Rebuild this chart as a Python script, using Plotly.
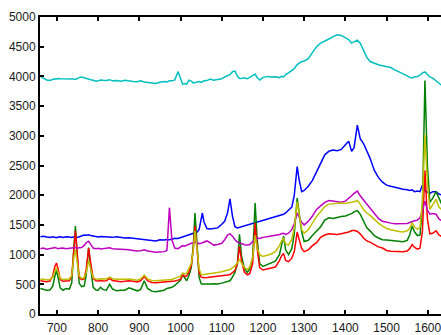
import plotly.graph_objects as go

# Raman shift (cm^-1), shared by all spectra
shift = [660, 667, 675, 683, 690, 695, 699, 703, 708, 715, 722, 730, 736, 741, 745, 749, 754, 760,
         766, 771, 777, 782, 788, 795, 800, 806, 812, 820, 828, 835, 845, 855, 865, 875, 885, 895,
         903, 912, 920, 930, 940, 950, 960, 967, 973, 979, 986, 994, 1000, 1005, 1010, 1015, 1020,
         1026, 1031, 1035, 1040, 1045, 1050, 1053, 1057, 1064, 1072, 1080, 1090, 1100, 1107, 1114,
         1120, 1126, 1132, 1138, 1143, 1148, 1155, 1162, 1168, 1175, 1181, 1186, 1192, 1200, 1210,
         1220, 1230, 1240, 1245, 1250, 1255, 1262, 1270, 1276, 1283, 1288, 1294, 1300, 1310, 1320,
         1330, 1340, 1350, 1360, 1370, 1380, 1390, 1400, 1408, 1415, 1421, 1429, 1436, 1444, 1452,
         1460, 1470, 1480, 1490, 1500, 1510, 1520, 1530, 1540, 1550, 1556, 1562, 1568, 1575, 1581,
         1587, 1593, 1599, 1605, 1612, 1620, 1627, 1635]

blue = [1300, 1310, 1295, 1290, 1300, 1290, 1285, 1295, 1300, 1290, 1300, 1295, 1290, 1300, 1295,
        1290, 1300, 1320, 1330, 1325, 1335, 1320, 1310, 1300, 1295, 1305, 1300, 1290, 1295, 1290,
        1300, 1285, 1280, 1285, 1275, 1270, 1260, 1255, 1250, 1240, 1230, 1250, 1245, 1255, 1250,
        1260, 1275, 1270, 1285, 1290, 1300, 1310, 1330, 1350, 1360, 1365, 1380, 1420, 1600, 1700,
        1550, 1440, 1430, 1435, 1450, 1510, 1560, 1700, 1940, 1650, 1470, 1450, 1460, 1470, 1480,
        1500, 1510, 1530, 1540, 1545, 1560, 1575, 1590, 1610, 1630, 1650, 1660, 1680, 1700, 1740,
        1800, 2000, 2480, 2250, 2060, 2080, 2150, 2250, 2400, 2530, 2680, 2740, 2760, 2750, 2770,
        2850, 2910, 2740, 2800, 3180, 2950, 2870, 2740, 2620, 2420, 2300, 2220, 2170, 2150, 2130,
        2120, 2100, 2090, 2080, 2090, 2060, 2070, 2060, 2170, 2080, 2050, 2030, 2060, 2060, 2020,
        2000]

green = [430, 410, 400, 405, 470, 640, 730, 610, 440, 400, 430, 420, 520, 1100, 1480, 1000, 520,
         460, 470, 650, 1120, 780, 450, 405, 400, 450, 410, 400, 500, 420, 390, 400, 400, 440, 420,
         390, 410, 560, 430, 385, 375, 390, 400, 430, 440, 450, 480, 530, 570, 660, 600, 560, 640,
         780, 1150, 1700, 1200, 620, 510, 500, 505, 500, 505, 510, 505, 520, 530, 545, 560, 620,
         700, 850, 1340, 980, 760, 700, 760, 950, 1870, 1250, 850, 800, 830, 860, 890, 1000, 1150,
         1310, 1080, 1000, 1100, 1350, 1950, 1700, 1380, 1220, 1240, 1320, 1400, 1470, 1580, 1620,
         1610, 1630, 1640, 1650, 1670, 1690, 1720, 1740, 1680, 1560, 1450, 1400, 1320, 1280, 1250,
         1245, 1240, 1230, 1220, 1215, 1240, 1330, 1480, 1380, 1320, 1330, 1800, 3930, 2500, 1880,
         1950, 2060, 1950, 1830]

red = [560, 550, 545, 555, 640, 800, 858, 760, 580, 550, 560, 560, 640, 1100, 1400, 1050, 620, 580,
       590, 750, 1110, 860, 600, 560, 555, 565, 555, 560, 600, 565, 550, 545, 550, 560, 550, 540,
       560, 630, 560, 530, 525, 530, 535, 540, 545, 545, 555, 570, 585, 660, 630, 640, 700, 820,
       1100, 1480, 1100, 700, 620, 615, 612, 615, 620, 630, 635, 640, 650, 655, 665, 690, 730, 850,
       1140, 900, 700, 660, 680, 850, 1530, 1100, 780, 740, 760, 780, 790, 900, 980, 1020, 900, 880,
       940, 1050, 1380, 1250, 1100, 1050, 1080, 1150, 1200, 1290, 1330, 1350, 1345, 1340, 1350,
       1360, 1380, 1400, 1410, 1390, 1350, 1280, 1230, 1210, 1170, 1130, 1110, 1070, 1055, 1050,
       1050, 1050, 1060, 1100, 1170, 1120, 1090, 1110, 1400, 2420, 1600, 1350, 1360, 1400, 1330,
       1300]

cyan = [4000, 3970, 3940, 3930, 3955, 3960, 3955, 3965, 3960, 3960, 3965, 3955, 3960, 3955, 3950,
        3965, 3980, 3990, 3975, 3975, 3950, 3945, 3935, 3920, 3925, 3940, 3935, 3930, 3945, 3925,
        3930, 3920, 3935, 3920, 3915, 3910, 3925, 3905, 3900, 3890, 3880, 3900, 3915, 3905, 3925,
        3925, 3940, 4080, 3950, 3870, 3880, 3870, 3935, 3920, 3890, 3895, 3900, 3915, 3900, 3910,
        3925, 3930, 3955, 3935, 3950, 3960, 3990, 4010, 4030, 4080, 4090, 4000, 3970, 3965, 3975,
        3960, 3990, 4020, 4040, 3980, 3940, 3980, 4000, 3990, 3995, 3980, 4000, 3990, 4030, 4060,
        4100, 4130, 4200, 4230, 4250, 4260, 4300, 4400, 4500, 4560, 4590, 4630, 4670, 4700, 4690,
        4650, 4620, 4560, 4580, 4610, 4560, 4450, 4320, 4250, 4220, 4195, 4180, 4160, 4150, 4110,
        4080, 4050, 4010, 3985, 3975, 3995, 4000, 4020, 4060, 4075, 4040, 3990, 3970, 3930, 3880,
        3840]

magenta = [1100, 1110, 1090, 1095, 1110, 1120, 1110, 1100, 1105, 1110, 1100, 1105, 1115, 1110,
           1120, 1110, 1110, 1120, 1150, 1200, 1225, 1180, 1110, 1100, 1105, 1095, 1100, 1105, 1115,
           1100, 1095, 1100, 1090, 1080, 1070, 1060, 1065, 1080, 1060, 1045, 1040, 1045, 1050, 1070,
           1790, 1250, 1110, 1100, 1130, 1150, 1140, 1160, 1180, 1190, 1200, 1210, 1200, 1185, 1190,
           1200, 1210, 1230, 1200, 1160, 1170, 1190, 1250, 1330, 1350, 1310, 1250, 1210, 1200, 1180,
           1165, 1160, 1170, 1220, 1260, 1280, 1270, 1290, 1300, 1310, 1320, 1340, 1350, 1360, 1340,
           1360, 1420, 1520, 1700, 1620, 1540, 1500, 1560, 1650, 1760, 1820, 1880, 1910, 1900, 1890,
           1880, 1900, 1940, 1990, 2030, 2070, 1990, 1920, 1840, 1780, 1690, 1610, 1560, 1540, 1530,
           1520, 1520, 1515, 1525, 1540, 1560, 1570, 1580, 1620, 1740, 1900, 1750, 1680, 1690, 1680,
           1600, 1560]

yellow = [590, 580, 575, 580, 620, 720, 780, 700, 600, 580, 590, 590, 650, 950, 1080, 900, 640, 600,
          610, 700, 900, 760, 610, 590, 585, 595, 590, 590, 620, 595, 585, 580, 585, 590, 580, 570,
          590, 655, 590, 565, 560, 565, 570, 575, 575, 580, 600, 620, 638, 690, 670, 690, 760, 850,
          1080, 1400, 1100, 760, 670, 660, 665, 670, 680, 690, 700, 710, 725, 740, 750, 780, 810, 860,
          920, 860, 780, 750, 790, 950, 1320, 1100, 1000, 970, 990, 1010, 1050, 1150, 1230, 1270,
          1180, 1160, 1260, 1450, 1890, 1650, 1420, 1360, 1420, 1530, 1640, 1720, 1810, 1850, 1860,
          1870, 1870, 1860, 1870, 1880, 1890, 1910, 1850, 1760, 1700, 1660, 1590, 1530, 1480, 1440,
          1420, 1400, 1390, 1380, 1400, 1440, 1540, 1460, 1430, 1460, 1900, 3020, 2200, 1760, 1830,
          1930, 1800, 1750]

# drawing order: later traces sit on top
series = [
    (blue, "#0000FF"),
    (green, "#008000"),
    (red, "#FF0000"),
    (cyan, "#00BFBF"),
    (magenta, "#BF00BF"),
    (yellow, "#BFBF00"),
]

x_ticks = [700, 800, 900, 1000, 1100, 1200, 1300, 1400, 1500, 1600]
y_ticks = [0, 500, 1000, 1500, 2000, 2500, 3000, 3500, 4000, 4500, 5000]

fig = go.Figure()
for values, color in series:
    fig.add_trace(go.Scatter(x=shift, y=values, mode="lines",
                             line=dict(color=color, width=1.5), showlegend=False))

axis_font = dict(family="Liberation Sans, Arial, sans-serif", size=12, color="#1a1a1a")
fig.update_layout(
    width=441, height=335,
    margin=dict(l=40, r=0, t=17, b=15),
    paper_bgcolor="white", plot_bgcolor="white",
    font=axis_font,
)
fig.update_xaxes(range=[659, 1632], tickvals=x_ticks, ticks="inside", ticklen=4,
                 tickwidth=1.5, tickcolor="black", showline=True, linecolor="black",
                 linewidth=2, mirror="ticks", showgrid=False, zeroline=False,
                 tickfont=axis_font, ticklabeloverflow="allow", ticklabelstandoff=2)
fig.update_yaxes(range=[0, 5000], tickvals=y_ticks, ticks="inside", ticklen=4,
                 tickwidth=1.5, tickcolor="black", showline=True, linecolor="black",
                 linewidth=2, mirror=False, showgrid=False, zeroline=False,
                 tickfont=axis_font)

fig.write_html("out.html")
